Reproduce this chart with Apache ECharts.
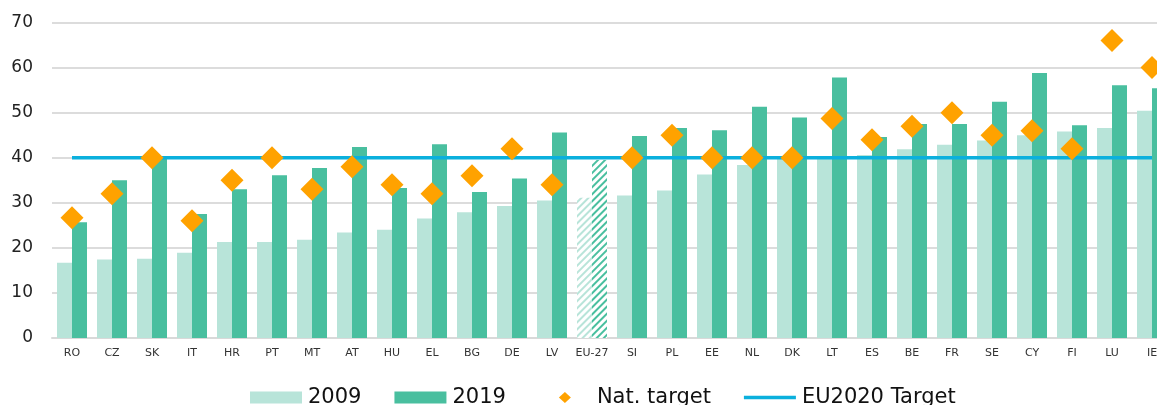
<!DOCTYPE html>
<html>
<head>
<meta charset="utf-8">
<script src="https://cdn.jsdelivr.net/npm/echarts@6/dist/echarts.min.js"></script>
<style>
html,body{margin:0;padding:0;overflow:hidden;background:#fff;}
#chart{width:1200px;height:405px;}
</style>
</head>
<body>
<div id="chart"></div>
<script>
var categories = ['RO','CZ','SK','IT','HR','PT','MT','AT','HU','EL','BG','DE','LV','EU-27','SI','PL','EE','NL','DK','LT','ES','BE','FR','SE','CY','FI','LU','IE'];
var values2009 = [16.7,17.4,17.6,18.9,21.3,21.3,21.8,23.4,24.0,26.5,27.9,29.3,30.5,31.1,31.6,32.7,36.3,38.4,39.9,40.0,40.6,41.9,42.9,43.8,45.0,45.8,46.6,50.4];
var values2019 = [25.7,35.0,39.7,27.5,33.0,36.1,37.7,42.4,33.3,43.0,32.4,35.4,45.6,39.5,44.8,46.6,46.1,51.3,48.9,57.8,44.6,47.5,47.5,52.4,58.8,47.2,56.1,55.4];
var natTarget = [26.7,32,40,26,35,40,33,38,34,32,36,42,34,null,40,45,40,40,40,48.7,44,47,50,45,46,42,66,60];
var eu2020Target = [40,40,40,40,40,40,40,40,40,40,40,40,40,40,40,40,40,40,40,40,40,40,40,40,40,40,40,40];
var yTicks = {min:0, max:70, interval:10};

var LIGHT = '#b8e4d9', DARK = '#49bf9f', ORANGE = '#ffa200', BLUE = '#0bb0dd';
var EU_INDEX = categories.indexOf('EU-27');

function hatch(color){
  return {color:'#ffffff', decal:{symbol:'rect', color:color, dashArrayX:[1,0], dashArrayY:[2,2.5], rotation:-Math.PI/4, symbolSize:1}};
}
var d2009 = values2009.map(function(v,i){ return i===EU_INDEX ? {value:v, itemStyle:hatch(LIGHT)} : v; });
var d2019 = values2019.map(function(v,i){ return i===EU_INDEX ? {value:v, itemStyle:hatch(DARK)} : v; });
var dNat = natTarget.map(function(v){ return v===null ? '-' : v; });

// legend icons with a 52x12 bounding box so they are not stretched
var ICON_DIAMOND = 'path://M0,0 M52,12 M26,0.5 L32,6 L26,11.5 L20,6 Z';
var ICON_LINE = 'path://M0,0 M52,12 M0,4.3 L52,4.3 L52,7.7 L0,7.7 Z';

var chart = echarts.init(document.getElementById('chart'), null, {renderer:'canvas'});
chart.setOption({
  animation:false,
  textStyle:{fontFamily:'Verdana, "DejaVu Sans", sans-serif'},
  grid:{left:52, right:28, top:22.5, bottom:67, containLabel:false},
  legend:{
    left:245, top:382,
    itemWidth:52, itemHeight:12, itemGap:33,
    textStyle:{fontSize:21, color:'#111', fontFamily:'Verdana, "DejaVu Sans", sans-serif', padding:[0,0,0,1]},
    data:[{name:'2009', icon:'rect'},{name:'2019', icon:'rect'},{name:'Nat. target', icon:ICON_DIAMOND},{name:'EU2020 Target', icon:ICON_LINE}]
  },
  xAxis:{
    type:'category', data:categories,
    axisLine:{lineStyle:{color:'#d9d9d9', width:2}},
    axisTick:{show:false},
    axisLabel:{interval:0, fontSize:11, color:'#333', margin:10}
  },
  yAxis:{
    type:'value', min:yTicks.min, max:yTicks.max, interval:yTicks.interval,
    axisLine:{show:false}, axisTick:{show:false},
    axisLabel:{fontSize:17, color:'#222', margin:19},
    splitLine:{lineStyle:{color:'#dcdcdc', width:2}}
  },
  series:[
    {name:'2009', type:'bar', data:d2009, barGap:'0%', barCategoryGap:'25%', itemStyle:{color:LIGHT}, z:2},
    {name:'2019', type:'bar', data:d2019, barGap:'0%', barCategoryGap:'25%', itemStyle:{color:DARK}, z:2},
    {name:'EU2020 Target', type:'line', data:eu2020Target, symbol:'none', lineStyle:{color:BLUE, width:3.5}, itemStyle:{color:BLUE}, z:4},
    {name:'Nat. target', type:'scatter', data:dNat, symbol:'diamond', symbolSize:23, itemStyle:{color:ORANGE, opacity:1}, z:5}
  ]
});
</script>
</body>
</html>
